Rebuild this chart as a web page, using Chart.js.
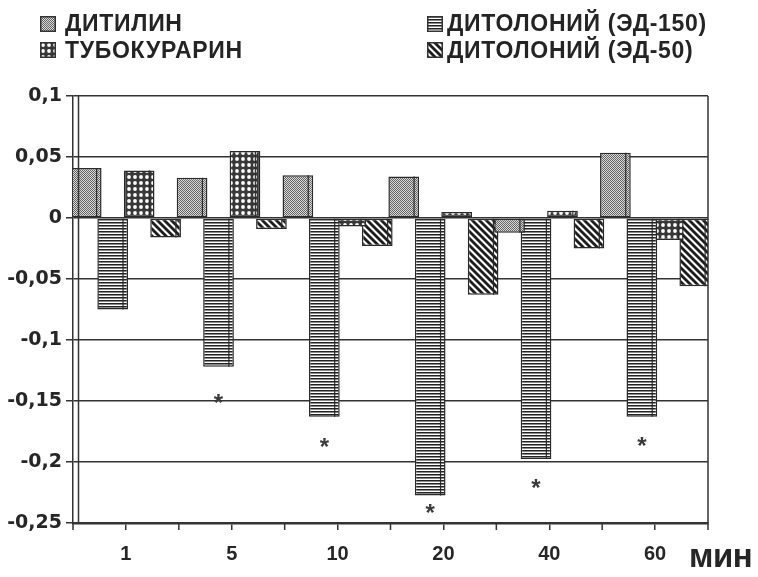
<!DOCTYPE html>
<html><head><meta charset="utf-8">
<script src="https://cdn.jsdelivr.net/npm/chart.js@4"></script>
<style>
html,body{margin:0;padding:0;background:#fff;}
#wrap{position:relative;width:758px;height:577px;overflow:hidden;}
#c{position:absolute;left:0;top:0;}
.lg{position:absolute;font:bold 23px "Liberation Sans",Arial,sans-serif;letter-spacing:0.7px;color:#242424;line-height:23px;white-space:nowrap;}
.sw{position:absolute;}
#unit{position:absolute;left:689px;top:539px;font:bold 33px "Liberation Sans",Arial,sans-serif;color:#262626;line-height:34px;white-space:nowrap;letter-spacing:-0.5px;}
</style></head><body>
<div id="wrap">
<canvas id="c" width="758" height="577"></canvas>
<div id="legend"></div>
<div id="unit">мин</div>
</div>
<script>
// ---- data ----
const categories = ['1', '5', '10', '20', '40', '60'];
const seriesNames = ['ДИТИЛИН', 'ДИТОЛОНИЙ (ЭД-150)', 'ТУБОКУРАРИН', 'ДИТОЛОНИЙ (ЭД-50)'];
const ditilin      = [0.041, 0.033, 0.035, 0.034, -0.012, 0.0535];
const ditoloniy150 = [-0.075, -0.122, -0.163, -0.2275, -0.1975, -0.163];
const tubocurarin  = [0.039, 0.055, -0.007, 0.005, 0.006, -0.018];
const ditoloniy50  = [-0.016, -0.009, -0.023, -0.063, -0.025, -0.056];
const starLevels   = [null, -0.147, -0.183, -0.237, -0.216, -0.182];
const yTickValues  = [0.1, 0.05, 0, -0.05, -0.1, -0.15, -0.2, -0.25];

// ---- patterns ----
function mkTile(w, h, draw) {
  const c = document.createElement('canvas'); c.width = w; c.height = h;
  const g = c.getContext('2d'); draw(g, w, h); return c;
}
const tiles = [
  mkTile(2, 2, (g) => { g.fillStyle = '#d8d8d8'; g.fillRect(0,0,2,2); g.fillStyle = '#666'; g.fillRect(0,0,1,1); g.fillRect(1,1,1,1); }),
  mkTile(1, 3, (g) => { g.fillStyle = '#fff'; g.fillRect(0,0,1,3); g.fillStyle = '#222'; g.fillRect(0,0,1,1); g.fillStyle = '#8a8a8a'; g.fillRect(0,1,1,1); }),
  mkTile(6, 6, (g) => { g.fillStyle = '#383838'; g.fillRect(0,0,6,6); g.fillStyle = '#fff'; g.beginPath(); g.arc(3,3,1.9,0,Math.PI*2); g.fill(); }),
  mkTile(7, 7, (g, w) => { g.fillStyle = '#fff'; g.fillRect(0,0,w,w); g.strokeStyle = '#1e1e1e'; g.lineWidth = 2.8;
    for (let k = -1; k <= 1; k++) { g.beginPath(); g.moveTo(k*w - 1, -1); g.lineTo(k*w + w + 1, w + 1); g.stroke(); } })
];
const canvas = document.getElementById('c');
const ctx = canvas.getContext('2d');
const patterns = tiles.map(t => ctx.createPattern(t, 'repeat'));
const seriesData = [ditilin, ditoloniy150, tubocurarin, ditoloniy50];

// ---- legend (HTML) ----
const legendPos = [
  {sx: 40, sy: 16, tx: 65, ty: 12},
  {sx: 427, sy: 16, tx: 447, ty: 12},
  {sx: 40, sy: 42, tx: 65, ty: 38.5},
  {sx: 427, sy: 42, tx: 447, ty: 38.5}
];
const legend = document.getElementById('legend');
seriesNames.forEach((name, i) => {
  const p = legendPos[i];
  const sw = document.createElement('canvas');
  sw.width = 16; sw.height = 16; sw.className = 'sw';
  sw.style.left = p.sx + 'px'; sw.style.top = p.sy + 'px';
  const g = sw.getContext('2d');
  g.fillStyle = g.createPattern(tiles[i], 'repeat'); g.fillRect(0,0,16,16);
  g.strokeStyle = '#333'; g.lineWidth = 1.5; g.strokeRect(0.75,0.75,14.5,14.5);
  legend.appendChild(sw);
  const t = document.createElement('div');
  t.className = 'lg'; t.textContent = name;
  t.style.left = p.tx + 'px'; t.style.top = p.ty + 'px';
  legend.appendChild(t);
});

// ---- plugins ----
const decor = {
  id: 'decor',
  afterDatasetsDraw(chart) {
    const c = chart.ctx;
    c.save();
    c.strokeStyle = '#2a2a2a'; c.lineWidth = 1.2;
    chart.data.datasets.forEach((ds, di) => {
      chart.getDatasetMeta(di).data.forEach(el => {
        const xr = el.x + el.width/2 - 5;
        const y1 = Math.min(el.y, el.base), y2 = Math.max(el.y, el.base);
        c.beginPath(); c.moveTo(xr, y1); c.lineTo(xr, y2); c.stroke();
      });
    });
    // stars
    c.fillStyle = '#3a3a3a';
    c.font = 'bold 24px "Liberation Sans", Arial, sans-serif';
    c.textAlign = 'center'; c.textBaseline = 'alphabetic';
    const meta = chart.getDatasetMeta(1);
    starLevels.forEach((v, i) => {
      if (v === null) return;
      const x = meta.data[i].x;
      const y = chart.scales.y.getPixelForValue(v);
      c.fillText('*', x, y + 14);
    });
    c.restore();
  },
  afterDraw(chart) {
    const c = chart.ctx, a = chart.chartArea, xs = chart.scales.x;
    c.save();
    c.strokeStyle = '#333'; c.lineWidth = 1.5;
    c.beginPath(); c.moveTo(a.left + 5.5, a.top); c.lineTo(a.left + 5.5, a.bottom); c.stroke();
    c.beginPath(); c.moveTo(a.right, a.top); c.lineTo(a.right, a.bottom); c.stroke();
    const n = chart.data.labels.length;
    const step = xs.getPixelForValue(1) - xs.getPixelForValue(0);
    for (let i = 0; i <= n; i++) {
      const x = xs.getPixelForValue(0) - step/2 + i * step;
      c.beginPath(); c.moveTo(x, a.bottom); c.lineTo(x, a.bottom + 7); c.stroke();
    }
    c.restore();
  }
};

function fmt(v) {
  const r = Math.round(v * 1000) / 1000;
  return String(r).replace('.', ',');
}

new Chart(ctx, {
  type: 'bar',
  data: {
    labels: categories,
    datasets: seriesNames.map((name, i) => ({
      label: name,
      data: seriesData[i],
      backgroundColor: patterns[i],
      borderColor: '#2a2a2a',
      borderWidth: 1.5,
      borderSkipped: false,
      categoryPercentage: 1,
      barPercentage: 1.16
    }))
  },
  options: {
    responsive: false,
    animation: false,
    events: [],
    layout: { padding: { left: 0, right: 50, top: 96, bottom: 0 } },
    plugins: { legend: { display: false }, tooltip: { enabled: false } },
    scales: {
      x: {
        grid: { offset: false, drawOnChartArea: false, tickLength: 7, color: '#333', lineWidth: 1.5 },
        border: { color: '#333', width: 2.5 },
        ticks: { color: '#262626', padding: 12, font: { family: '"Liberation Sans", Arial, sans-serif', size: 20, weight: 'bold' } },
        afterFit(s) { s.height = 54; }
      },
      y: {
        min: -0.25, max: 0.1,
        afterBuildTicks(s) { s.ticks = yTickValues.map(v => ({ value: v })); },
        grid: { color: '#333', lineWidth: 1.5, tickLength: 7 },
        border: { color: '#333', width: 1.5 },
        ticks: { color: '#262626', padding: 4, callback: (v) => fmt(v), font: { family: '"DejaVu Sans", sans-serif', size: 19, weight: 'bold' } },
        afterFit(s) { s.width = 73; }
      }
    }
  },
  plugins: [decor]
});
</script>
</body></html>
